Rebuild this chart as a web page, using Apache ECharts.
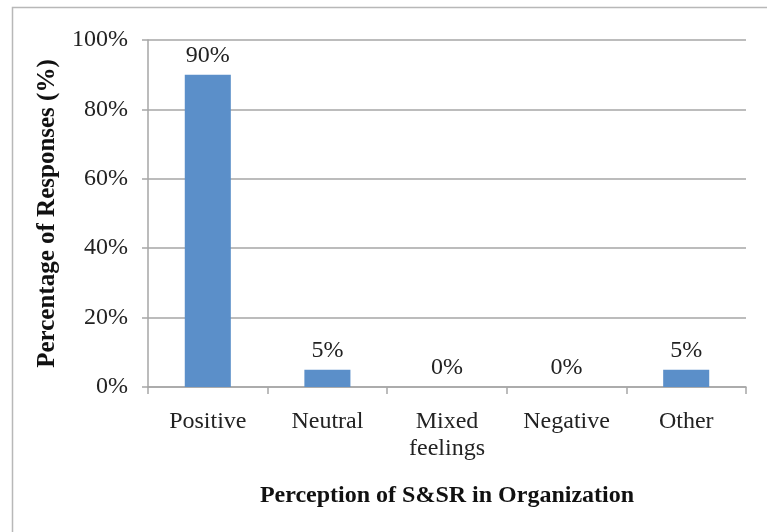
<!DOCTYPE html>
<html>
<head>
<meta charset="utf-8">
<script src="https://cdn.jsdelivr.net/npm/echarts@6/dist/echarts.min.js"></script>
<style>
    html, body { margin: 0; padding: 0; background: #fff; }
    #chart { width: 767px; height: 532px; }
</style>
</head>
<body>
<div id="chart"></div>
<script>
var categories = ['Positive', 'Neutral', 'Mixed\nfeelings', 'Negative', 'Other'];
var responses = [90, 5, 0, 0, 5];
var yTicks = [0, 20, 40, 60, 80, 100];

var chart = echarts.init(document.getElementById('chart'));
var font = '"Liberation Serif", "Times New Roman", serif';

var option = {
    animation: false,
    backgroundColor: '#fff',
    textStyle: { fontFamily: font },
    graphic: [
        {
            type: 'rect',
            shape: { x: 12.5, y: 7.5, width: 800, height: 600 },
            style: { fill: 'none', stroke: '#b8b8b8', lineWidth: 1.5 },
            silent: true
        }
    ],
    grid: { left: 148, right: 21, top: 40, bottom: 145 },
    xAxis: {
        type: 'category',
        data: categories,
        name: 'Perception of S&SR in Organization',
        nameLocation: 'middle',
        nameGap: 97,
        nameTextStyle: { fontFamily: font, fontSize: 24, fontWeight: 'bold', color: '#111' },
        axisLine: { lineStyle: { color: '#a6a6a6', width: 1.5 } },
        axisTick: { show: true, alignWithLabel: false, length: 7, lineStyle: { color: '#a6a6a6', width: 1.5 } },
        axisLabel: { fontFamily: font, fontSize: 24, color: '#222', margin: 21, lineHeight: 27 }
    },
    yAxis: {
        type: 'value',
        min: yTicks[0],
        max: yTicks[yTicks.length - 1],
        interval: 20,
        name: 'Percentage of Responses (%)',
        nameLocation: 'middle',
        nameGap: 88,
        nameTextStyle: { fontFamily: font, fontSize: 25, fontWeight: 'bold', color: '#111' },
        axisLine: { show: true, lineStyle: { color: '#a6a6a6', width: 1.5 } },
        axisTick: { show: true, inside: false, length: 6, lineStyle: { color: '#a6a6a6', width: 1.5 } },
        axisLabel: { fontFamily: font, fontSize: 24, color: '#222', margin: 20, formatter: '{value}%' },
        splitLine: { lineStyle: { color: '#a6a6a6', width: 1.5 } }
    },
    series: [
        {
            type: 'bar',
            data: responses,
            barWidth: '38.5%',
            itemStyle: { color: '#5b8fc9' },
            label: {
                show: true,
                position: 'top',
                distance: 7,
                fontFamily: font,
                fontSize: 24,
                color: '#222',
                formatter: '{c}%'
            }
        }
    ]
};
chart.setOption(option);
window.onresize = chart.resize;
</script>
</body>
</html>
